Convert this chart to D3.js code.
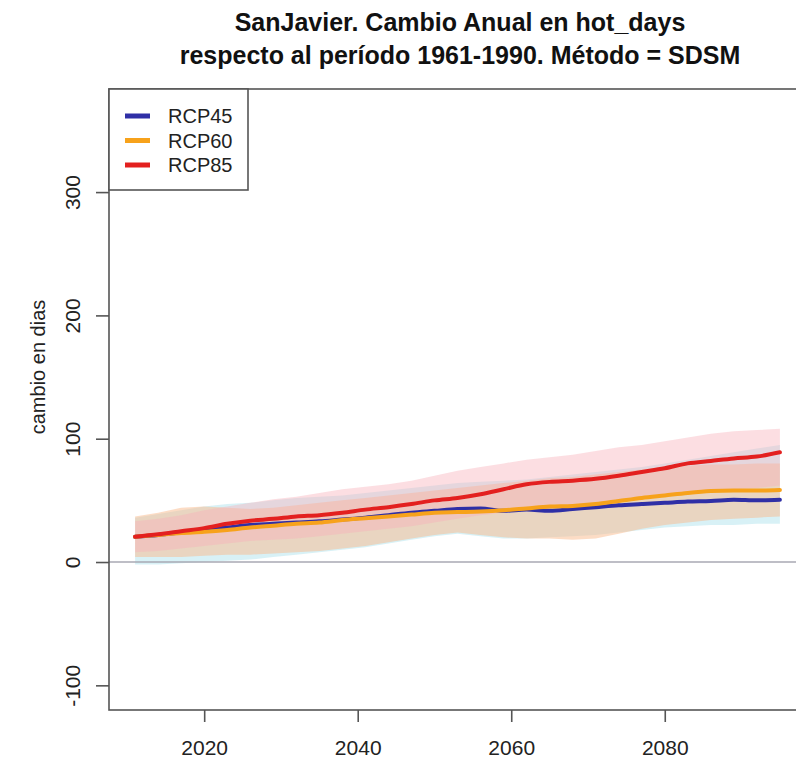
<!DOCTYPE html>
<html>
<head>
<meta charset="utf-8">
<script src="https://cdn.jsdelivr.net/npm/d3@7"></script>
<style>
  body { margin: 0; background: #fff; }
  svg { display: block; font-family: "Liberation Sans", Arial, sans-serif; }
</style>
</head>
<body>
<svg id="chart" width="796" height="762"></svg>
<script>
// Years sampled every 3 years along the projection period
const years = [2011, 2014, 2017, 2020, 2023, 2026, 2029, 2032, 2035, 2038,
  2041, 2044, 2047, 2050, 2053, 2056, 2059, 2062, 2065, 2068,
  2071, 2074, 2077, 2080, 2083, 2086, 2089, 2092, 2095];

// Central estimates (cambio en dias)
const rcp45 = [20.5, 22, 24, 26, 28, 30, 31, 32, 33, 34.5, 36, 38, 40, 41.5, 43, 43.5, 41.5, 42.5, 41.5, 43, 44.5, 46, 47, 48, 49, 49.5, 50.5, 50, 50.5];
const rcp60 = [20.5, 22, 23.5, 24.5, 26, 28, 29.5, 31, 32, 34, 35.5, 37, 38.5, 40, 40.5, 41, 42, 43.5, 45, 45.5, 47, 49.5, 52, 54, 56, 57.5, 58, 58, 58.5];
const rcp85 = [20.5, 22.5, 25, 27.5, 31, 33.5, 35, 37, 38, 40, 42.5, 44.5, 47, 50, 52, 55, 59, 63, 65, 66, 67.5, 70, 73, 76, 80, 82, 84, 85.5, 89];

// Uncertainty envelopes (lower / upper)
const rcp45Lo = [-2, -2, -1, 0, 1, 2, 4, 6, 8, 10, 12, 15, 18, 21, 23, 21, 19, 19, 20, 21, 22, 24, 26, 28, 29, 30, 30, 31, 31];
const rcp45Hi = [36, 39, 42, 45, 47, 48, 50, 52, 53, 54, 56, 58, 60, 62, 64, 65, 66, 67, 69, 71, 73, 75, 77, 80, 83, 86, 89, 92, 95];
const rcp60Lo = [4, 4, 4, 5, 6, 6, 7, 8, 9, 11, 13, 16, 19, 22, 24, 22, 20, 19, 19, 18, 19, 23, 27, 30, 32, 34, 35, 36, 37];
const rcp60Hi = [37, 40, 44, 45, 44, 43, 44, 46, 48, 50, 52, 54, 56, 58, 60, 62, 64, 66, 68, 69, 71, 73, 75, 77, 78, 79, 79, 80, 80];
const rcp85Lo = [8, 9, 11, 13, 15, 17, 18, 19, 21, 23, 25, 27, 29, 32, 35, 38, 40, 42, 44, 45, 47, 49, 51, 53, 55, 57, 59, 60, 62];
const rcp85Hi = [33, 35, 38, 42, 45, 48, 51, 53, 56, 59, 61, 63, 66, 70, 74, 77, 80, 83, 85, 87, 90, 93, 95, 98, 101, 104, 106, 107, 108];

const xTicks = [2020, 2040, 2060, 2080];
const yTicks = [-100, 0, 100, 200, 300];

const titleLines = ['SanJavier. Cambio Anual en hot_days',
  'respecto al período 1961-1990. Método = SDSM'];
const yLabel = 'cambio en dias';

const series = [
  { name: 'RCP45', mid: rcp45, lo: rcp45Lo, hi: rcp45Hi, line: '#2f2fa6', band: '#a8e0ec', op: 0.45 },
  { name: 'RCP60', mid: rcp60, lo: rcp60Lo, hi: rcp60Hi, line: '#f7a21b', band: '#f9b98c', op: 0.5 },
  { name: 'RCP85', mid: rcp85, lo: rcp85Lo, hi: rcp85Hi, line: '#e3201f', band: '#f7b0ba', op: 0.42 }
];

const svg = d3.select('#chart');
const m = { left: 109, top: 89, right: 806, bottom: 710 };

const x = d3.scaleLinear().domain([2007.6, 2098.4]).range([m.left, m.right]);
const y = d3.scaleLinear().domain([-120, 383.6]).range([m.bottom, m.top]);

const plot = svg.append('g');

// Bands
const area = d3.area()
  .x((d, i) => x(years[i]))
  .y0(d => y(d[0]))
  .y1(d => y(d[1]));

series.forEach(s => {
  plot.append('path')
    .datum(s.lo.map((v, i) => [v, s.hi[i]]))
    .attr('d', area)
    .attr('fill', s.band)
    .attr('fill-opacity', s.op);
});

// Zero reference line
plot.append('line')
  .attr('x1', m.left).attr('x2', m.right)
  .attr('y1', y(0)).attr('y2', y(0))
  .attr('stroke', '#a9a9b3')
  .attr('stroke-width', 1.6);

// Central lines
const line = d3.line()
  .x((d, i) => x(years[i]))
  .y(d => y(d))
  .curve(d3.curveMonotoneX);

series.forEach(s => {
  plot.append('path')
    .datum(s.mid)
    .attr('d', line)
    .attr('fill', 'none')
    .attr('stroke', s.line)
    .attr('stroke-width', 4)
    .attr('stroke-linejoin', 'round')
    .attr('stroke-linecap', 'round');
});

// Plot frame
svg.append('rect')
  .attr('x', m.left).attr('y', m.top)
  .attr('width', m.right - m.left).attr('height', m.bottom - m.top)
  .attr('fill', 'none')
  .attr('stroke', '#555')
  .attr('stroke-width', 1.6);

// Axes (plain hyphen for negatives, as in the original)
const xAxis = svg.append('g')
  .attr('transform', `translate(0,${m.bottom})`)
  .call(d3.axisBottom(x).tickValues(xTicks).tickFormat(d => String(d)).tickSize(12).tickPadding(18));
xAxis.select('.domain').remove();

const yAxis = svg.append('g')
  .attr('transform', `translate(${m.left},0)`)
  .call(d3.axisLeft(y).tickValues(yTicks).tickSize(13).tickFormat(d => String(d)));
yAxis.select('.domain').remove();

[xAxis, yAxis].forEach(g => {
  g.selectAll('.tick line').attr('stroke', '#555').attr('stroke-width', 1.6);
  g.selectAll('.tick text')
    .attr('fill', '#222')
    .style('font-size', '21px')
    .style('font-family', '"Liberation Sans", Arial, sans-serif');
});

yAxis.selectAll('.tick text')
  .attr('x', null)
  .attr('text-anchor', 'middle')
  .attr('transform', 'translate(-36,0) rotate(-90)')
  .attr('dy', '0.35em');

// Axis title
svg.append('text')
  .attr('transform', 'translate(38,367) rotate(-90)')
  .attr('text-anchor', 'middle')
  .attr('dy', '0.35em')
  .style('font-size', '20px')
  .attr('fill', '#222')
  .text(yLabel);

// Title
svg.selectAll('.title')
  .data(titleLines)
  .enter()
  .append('text')
  .attr('class', 'title')
  .attr('x', 460)
  .attr('y', (d, i) => 31 + i * 33)
  .attr('text-anchor', 'middle')
  .style('font-size', '25px')
  .style('font-weight', 'bold')
  .attr('fill', '#111')
  .text(d => d);

// Legend
const legend = svg.append('g');
legend.append('rect')
  .attr('x', m.left).attr('y', m.top)
  .attr('width', 139).attr('height', 101)
  .attr('fill', '#fff')
  .attr('stroke', '#555')
  .attr('stroke-width', 1.6);

const items = legend.selectAll('.item')
  .data(series)
  .enter()
  .append('g')
  .attr('transform', (d, i) => `translate(${m.left},${m.top + 27 + i * 24.5})`);

items.append('line')
  .attr('x1', 16).attr('x2', 41)
  .attr('stroke', d => d.line)
  .attr('stroke-width', 5);

items.append('text')
  .attr('x', 59)
  .attr('dy', '0.36em')
  .style('font-size', '20px')
  .attr('fill', '#222')
  .text(d => d.name);
</script>
</body>
</html>
